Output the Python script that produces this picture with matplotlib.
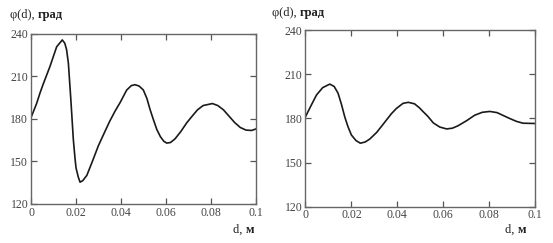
import matplotlib.pyplot as plt

# phi(d) in degrees
d_left = [0, 0.0025, 0.004, 0.0055, 0.0084, 0.0114, 0.0139, 0.015, 0.0158, 0.0166,
          0.0176, 0.018, 0.0188, 0.0195, 0.020, 0.021, 0.0218, 0.023, 0.0248, 0.0275, 0.0299,
          0.0325, 0.035, 0.0375, 0.0396, 0.0425, 0.0446, 0.0462, 0.048, 0.0499, 0.0515,
          0.0529, 0.0545, 0.0559, 0.0575, 0.059, 0.0603, 0.062, 0.064, 0.0665, 0.0692, 0.0715,
          0.074, 0.0765, 0.0806, 0.083, 0.0855, 0.088, 0.0905, 0.093, 0.0955, 0.098, 0.1]
phi_left = [181, 191, 198.4, 205, 217, 231, 235.8, 233.5, 229, 219.4,
            196, 186, 165.6, 153, 145.5, 139, 135.4, 136.5, 140.2, 151, 161,
            170, 178.5, 186, 191.6, 200.4, 203.6, 204.2, 203.3, 200.5, 194.5,
            186.7, 179, 172.6, 167.5, 164.3, 163, 163.4, 166, 171, 177.3, 181.8,
            186.5, 189.5, 190.9, 189.5, 186.5, 182, 177.5, 174, 172.2, 171.9, 173]

d_right = [0, 0.0025, 0.0048, 0.0075, 0.0106, 0.0125, 0.0142, 0.0157, 0.0171, 0.0185,
           0.020, 0.022, 0.0239, 0.026, 0.028, 0.031, 0.0338, 0.0374, 0.0396, 0.0425,
           0.0448, 0.0475, 0.0497, 0.0513, 0.0533, 0.0557, 0.0585, 0.0615, 0.064, 0.0664,
           0.0702, 0.0737, 0.077, 0.0803, 0.0835, 0.0865, 0.089, 0.092, 0.0948, 0.1]
phi_right = [181.2, 189, 196, 201, 203.4, 201.8, 197.2, 189.5, 181.2, 174.5,
             168.8, 165, 163.2, 164, 166, 170.5, 176, 183.2, 186.8, 190.3,
             191, 190, 187.2, 184.6, 181.5, 177, 174.2, 172.9, 173.4, 175,
             178.5, 182.2, 184.2, 184.8, 184, 181.8, 180, 178, 176.8, 176.6]

x_ticks = [0, 0.02, 0.04, 0.06, 0.08, 0.1]
x_labels = ["0", "0.02", "0.04", "0.06", "0.08", "0.1"]
y_ticks = [120, 150, 180, 210, 240]

plt.rcParams['font.family'] = ['Liberation Serif', 'DejaVu Serif']
plt.rcParams['font.size'] = 8.5

fig = plt.figure(figsize=(5.53, 2.43), dpi=100)
ax1 = fig.add_axes([0.0561, 0.1605, 0.4069, 0.6996])
ax2 = fig.add_axes([0.5524, 0.1494, 0.415, 0.7259])

for ax, d, phi in [(ax1, d_left, phi_left), (ax2, d_right, phi_right)]:
    ax.plot(d, phi, color="#1a1a1a", lw=1.2)
    ax.set_xlim(0, 0.1)
    ax.set_ylim(120, 240)
    ax.set_xticks(x_ticks)
    ax.set_xticklabels(x_labels)
    ax.set_yticks(y_ticks)
    ax.tick_params(direction="in", top=True, right=True, length=4, width=0.9,
                   color="#555555", labelcolor="#444444", pad=2)
    for s in ax.spines.values():
        s.set_color("#666666")
        s.set_linewidth(1.0)

# axis captions: normal part then bold part
def caption(x0, y0, normal, bold):
    t = fig.text(x0, y0, normal, fontsize=9, color="#222222", va="baseline")
    ax1.annotate(bold, xy=(1, 0), xycoords=t, va="bottom", annotation_clip=False,
                 fontsize=9, fontweight="bold", color="#222222")

caption(10 / 553, 1 - 18 / 243, "φ(d), ", "град")
caption(272 / 553, 1 - 16 / 243, "φ(d), ", "град")
caption(233 / 553, 1 - 233 / 243, "d, ", "м")
caption(505 / 553, 1 - 233 / 243, "d, ", "м")

fig.savefig("out.png", dpi=100)
